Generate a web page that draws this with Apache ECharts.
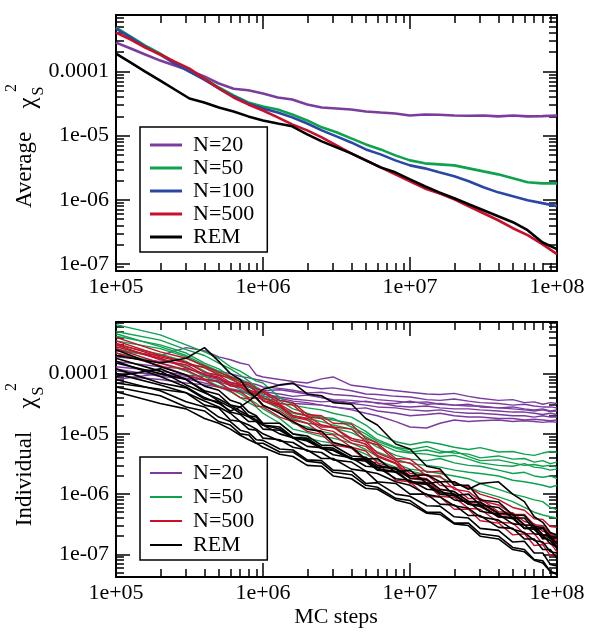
<!DOCTYPE html>
<html><head><meta charset="utf-8">
<script src="https://cdn.jsdelivr.net/npm/echarts@6/dist/echarts.min.js"></script>
<style>html,body{margin:0;padding:0;background:#fff}#c{width:595px;height:642px}</style>
</head><body><div id="c"></div>
<script>
// ---------- axis ticks / labels ----------
const xTickValues = [1e5, 1e6, 1e7, 1e8];
const xTickLabels = ['1e+05', '1e+06', '1e+07', '1e+08'];
const yTickValues = [1e-7, 1e-6, 1e-5, 1e-4];
const yTickLabels = ['1e-07', '1e-06', '1e-05', '0.0001'];

// ---------- top panel: average chi_S^2 ----------
const avgNames = ['N=20', 'N=50', 'N=100', 'N=500', 'REM'];
const xAvg = [1e5, 1.26e5, 1.58e5, 2e5, 2.51e5, 3.16e5, 3.98e5, 5.01e5, 6.31e5, 7.94e5, 1e6, 1.26e6, 1.58e6, 2e6, 2.51e6, 3.16e6, 3.98e6, 5.01e6, 6.31e6, 7.94e6, 1e7, 1.26e7, 1.58e7, 2e7, 2.51e7, 3.16e7, 3.98e7, 5.01e7, 6.31e7, 7.94e7, 1e8];
const avgN20 = [2.82e-4, 2.28e-4, 1.84e-4, 1.48e-4, 1.24e-4, 1.04e-4, 8.4e-5, 6.5e-5, 5.4e-5, 5.1e-5, 4.55e-5, 3.94e-5, 3.67e-5, 3.07e-5, 2.75e-5, 2.66e-5, 2.56e-5, 2.39e-5, 2.3e-5, 2.22e-5, 2.07e-5, 2.14e-5, 2.12e-5, 2.07e-5, 2.05e-5, 2.07e-5, 2.0e-5, 2.06e-5, 2.0e-5, 2.02e-5, 2.07e-5];
const avgN50 = [4.83e-4, 3.5e-4, 2.54e-4, 1.9e-4, 1.38e-4, 1.0e-4, 7.8e-5, 5.64e-5, 4.23e-5, 3.3e-5, 2.86e-5, 2.56e-5, 2.14e-5, 1.73e-5, 1.35e-5, 1.13e-5, 9.08e-6, 7.32e-6, 6.12e-6, 4.94e-6, 4.13e-6, 3.71e-6, 3.58e-6, 3.45e-6, 3.1e-6, 2.78e-6, 2.5e-6, 2.17e-6, 1.88e-6, 1.81e-6, 1.81e-6];
const avgN100 = [4.67e-4, 3.38e-4, 2.45e-4, 1.84e-4, 1.33e-4, 1.0e-4, 7.5e-5, 5.44e-5, 4.08e-5, 3.18e-5, 2.66e-5, 2.3e-5, 1.93e-5, 1.55e-5, 1.21e-5, 9.75e-6, 7.86e-6, 6.12e-6, 5.12e-6, 4.13e-6, 3.45e-6, 3.1e-6, 2.69e-6, 2.33e-6, 1.95e-6, 1.57e-6, 1.31e-6, 1.14e-6, 9.9e-7, 8.9e-7, 8.0e-7];
const avgN500 = [4.04e-4, 3.15e-4, 2.36e-4, 1.84e-4, 1.43e-4, 1.11e-4, 7.8e-5, 5.44e-5, 3.94e-5, 3.07e-5, 2.47e-5, 1.93e-5, 1.5e-5, 1.21e-5, 9.41e-6, 7.07e-6, 5.31e-6, 4.13e-6, 3.21e-6, 2.5e-6, 1.95e-6, 1.51e-6, 1.27e-6, 1.02e-6, 7.96e-7, 6.19e-7, 4.82e-7, 3.62e-7, 2.82e-7, 2.04e-7, 1.43e-7];
const avgREM = [1.9e-4, 1.38e-4, 1.0e-4, 7.24e-5, 5.25e-5, 3.8e-5, 3.3e-5, 2.75e-5, 2.39e-5, 2.0e-5, 1.73e-5, 1.55e-5, 1.4e-5, 1.05e-5, 8.15e-6, 6.58e-6, 5.31e-6, 4.13e-6, 3.21e-6, 2.69e-6, 2.09e-6, 1.63e-6, 1.31e-6, 1.06e-6, 8.55e-7, 6.9e-7, 5.56e-7, 4.49e-7, 3.37e-7, 2.19e-7, 1.71e-7];

// ---------- bottom panel: individual samples ----------
const indNames = ['N=20', 'N=50', 'N=500', 'REM'];
const xInd = [1e5, 2e5, 3e5, 4e5, 5e5, 6e5, 7e5, 8e5, 9e5, 1e6, 1.3e6, 1.6e6, 2e6, 2.5e6, 3e6, 4e6, 5e6, 6e6, 8e6, 1e7, 1.3e7, 1.6e7, 2e7, 2.5e7, 3e7, 4e7, 5e7, 6e7, 7e7, 8e7, 9e7, 1e8];
const indN20 = [
 [2.4e-4, 2.0e-4, 2.7e-4, 2.4e-4, 1.9e-4, 1.7e-4, 1.5e-4, 1.4e-4, 9.5e-5, 8.8e-5, 8.0e-5, 7.4e-5, 7.0e-5, 8.2e-5, 8.8e-5, 6.4e-5, 6.0e-5, 5.6e-5, 5.2e-5, 4.9e-5, 4.6e-5, 4.5e-5, 4.7e-5, 4.2e-5, 3.9e-5, 3.6e-5, 3.7e-5, 3.3e-5, 3.4e-5, 3.1e-5, 3.3e-5, 3.2e-5],
 [1.9e-4, 1.6e-4, 1.4e-4, 1.3e-4, 1.1e-4, 1.0e-4, 9.0e-5, 8.5e-5, 8.0e-5, 7.6e-5, 6.4e-5, 6.8e-5, 6.0e-5, 5.6e-5, 5.8e-5, 5.2e-5, 4.6e-5, 4.5e-5, 4.2e-5, 4.1e-5, 3.7e-5, 3.6e-5, 3.8e-5, 3.5e-5, 3.3e-5, 3.2e-5, 3.0e-5, 3.1e-5, 2.9e-5, 2.8e-5, 2.8e-5, 2.7e-5],
 [1.6e-4, 1.3e-4, 1.2e-4, 1.0e-4, 9.5e-5, 8.6e-5, 8.0e-5, 7.0e-5, 6.6e-5, 6.0e-5, 5.7e-5, 5.3e-5, 4.8e-5, 4.9e-5, 4.5e-5, 4.3e-5, 4.0e-5, 3.7e-5, 3.5e-5, 3.3e-5, 3.4e-5, 3.1e-5, 3.0e-5, 3.1e-5, 2.8e-5, 2.7e-5, 2.8e-5, 2.6e-5, 2.5e-5, 2.6e-5, 2.4e-5, 2.5e-5],
 [1.3e-4, 1.1e-4, 9.4e-5, 9.0e-5, 8.0e-5, 7.2e-5, 6.5e-5, 6.0e-5, 5.2e-5, 5.0e-5, 4.6e-5, 4.2e-5, 4.4e-5, 4.0e-5, 3.7e-5, 3.6e-5, 3.4e-5, 3.3e-5, 2.9e-5, 2.8e-5, 2.9e-5, 2.7e-5, 2.6e-5, 2.6e-5, 2.5e-5, 2.4e-5, 2.3e-5, 2.3e-5, 2.2e-5, 2.1e-5, 2.2e-5, 2.1e-5],
 [1.1e-4, 9.6e-5, 8.4e-5, 7.8e-5, 7.3e-5, 6.4e-5, 5.9e-5, 5.1e-5, 4.9e-5, 4.6e-5, 4.1e-5, 3.8e-5, 3.6e-5, 3.4e-5, 3.5e-5, 3.2e-5, 3.0e-5, 2.8e-5, 2.7e-5, 2.5e-5, 2.4e-5, 2.5e-5, 2.3e-5, 2.2e-5, 2.2e-5, 2.1e-5, 2.0e-5, 2.0e-5, 1.9e-5, 2.0e-5, 1.9e-5, 1.9e-5],
 [9.2e-5, 8.0e-5, 7.0e-5, 6.5e-5, 6.0e-5, 5.4e-5, 5.0e-5, 4.6e-5, 4.0e-5, 3.8e-5, 3.6e-5, 3.2e-5, 3.1e-5, 3.0e-5, 2.8e-5, 2.6e-5, 2.7e-5, 2.4e-5, 2.2e-5, 2.0e-5, 2.1e-5, 2.2e-5, 2.0e-5, 1.9e-5, 1.9e-5, 1.8e-5, 1.8e-5, 1.7e-5, 1.75e-5, 1.7e-5, 1.65e-5, 1.7e-5],
 [1.2e-4, 9.0e-5, 8.2e-5, 7.0e-5, 6.2e-5, 5.6e-5, 5.2e-5, 4.8e-5, 4.4e-5, 4.2e-5, 3.9e-5, 3.5e-5, 3.3e-5, 3.0e-5, 2.8e-5, 2.5e-5, 2.2e-5, 2.0e-5, 1.6e-5, 1.3e-5, 1.25e-5, 1.5e-5, 1.7e-5, 1.6e-5, 1.65e-5, 1.7e-5, 1.6e-5, 1.65e-5, 1.6e-5, 1.55e-5, 1.6e-5, 1.55e-5],
 [8.0e-5, 1.0e-4, 9.0e-5, 8.0e-5, 7.6e-5, 7.0e-5, 6.6e-5, 6.0e-5, 5.6e-5, 5.2e-5, 5.4e-5, 5.0e-5, 4.6e-5, 4.0e-5, 3.6e-5, 3.3e-5, 3.5e-5, 3.2e-5, 3.2e-5, 3.5e-5, 3.1e-5, 3.2e-5, 3.0e-5, 2.9e-5, 2.9e-5, 2.7e-5, 2.6e-5, 2.5e-5, 2.4e-5, 2.5e-5, 2.35e-5, 2.4e-5]
];
const indN50 = [
 [6.5e-4, 4.4e-4, 3.0e-4, 2.3e-4, 1.8e-4, 1.3e-4, 1.1e-4, 9.0e-5, 7.5e-5, 7.0e-5, 4.0e-5, 3.0e-5, 2.7e-5, 2.5e-5, 2.2e-5, 1.9e-5, 1.4e-5, 1.0e-5, 7.4e-6, 6.6e-6, 7.4e-6, 6.8e-6, 6.0e-6, 5.5e-6, 5.9e-6, 5.0e-6, 5.1e-6, 4.6e-6, 4.4e-6, 4.8e-6, 5.1e-6, 4.9e-6],
 [5.0e-4, 3.6e-4, 2.5e-4, 2.0e-4, 1.5e-4, 1.2e-4, 9.5e-5, 7.5e-5, 6.0e-5, 5.2e-5, 3.5e-5, 2.6e-5, 2.2e-5, 1.8e-5, 1.7e-5, 1.5e-5, 1.1e-5, 8.0e-6, 6.0e-6, 5.5e-6, 6.2e-6, 5.2e-6, 4.8e-6, 4.6e-6, 4.0e-6, 4.3e-6, 3.8e-6, 3.9e-6, 3.4e-6, 3.6e-6, 3.2e-6, 3.4e-6],
 [4.2e-4, 3.0e-4, 2.2e-4, 1.5e-4, 1.2e-4, 9.0e-5, 8.0e-5, 6.5e-5, 5.5e-5, 4.4e-5, 3.0e-5, 2.0e-5, 1.8e-5, 1.6e-5, 1.4e-5, 1.2e-5, 9.0e-6, 7.0e-6, 5.2e-6, 4.8e-6, 4.6e-6, 4.2e-6, 4.4e-6, 3.8e-6, 3.3e-6, 3.0e-6, 2.9e-6, 3.2e-6, 2.8e-6, 2.7e-6, 2.5e-6, 2.6e-6],
 [3.5e-4, 2.6e-4, 1.9e-4, 1.3e-4, 1.0e-4, 8.0e-5, 6.8e-5, 5.5e-5, 4.6e-5, 3.6e-5, 2.6e-5, 1.8e-5, 1.5e-5, 1.4e-5, 1.25e-5, 1.05e-5, 8.0e-6, 6.0e-6, 4.4e-6, 3.8e-6, 3.6e-6, 3.9e-6, 3.3e-6, 3.0e-6, 2.9e-6, 2.5e-6, 2.2e-6, 2.3e-6, 2.0e-6, 1.9e-6, 2.0e-6, 1.8e-6],
 [3.0e-4, 2.1e-4, 1.6e-4, 1.1e-4, 8.0e-5, 6.5e-5, 5.5e-5, 4.5e-5, 3.8e-5, 3.0e-5, 2.2e-5, 1.5e-5, 1.3e-5, 1.1e-5, 1.0e-5, 8.5e-6, 6.6e-6, 5.0e-6, 3.8e-6, 3.2e-6, 3.0e-6, 2.8e-6, 2.5e-6, 2.3e-6, 2.2e-6, 2.0e-6, 1.7e-6, 1.6e-6, 1.5e-6, 1.4e-6, 1.3e-6, 1.4e-6],
 [2.6e-4, 1.8e-4, 1.3e-4, 9.0e-5, 7.0e-5, 5.5e-5, 4.6e-5, 3.8e-5, 3.2e-5, 2.6e-5, 1.8e-5, 1.2e-5, 1.05e-5, 9.0e-6, 8.5e-6, 7.0e-6, 5.5e-6, 4.2e-6, 3.2e-6, 2.6e-6, 2.4e-6, 2.2e-6, 2.0e-6, 1.8e-6, 1.5e-6, 1.2e-6, 1.0e-6, 9.0e-7, 8.0e-7, 7.5e-7, 6.0e-7, 5.5e-7],
 [2.2e-4, 1.5e-4, 1.1e-4, 8.0e-5, 6.2e-5, 5.0e-5, 4.0e-5, 3.3e-5, 2.8e-5, 2.2e-5, 1.5e-5, 1.0e-5, 8.5e-6, 7.5e-6, 7.0e-6, 5.8e-6, 4.6e-6, 3.6e-6, 2.8e-6, 2.4e-6, 2.1e-6, 1.9e-6, 1.5e-6, 1.3e-6, 1.1e-6, 9.0e-7, 7.5e-7, 6.0e-7, 5.0e-7, 4.5e-7, 4.2e-7, 4.0e-7],
 [4.6e-4, 2.8e-4, 2.0e-4, 1.4e-4, 1.1e-4, 8.5e-5, 7.5e-5, 6.2e-5, 5.0e-5, 4.0e-5, 2.8e-5, 2.2e-5, 2.0e-5, 1.9e-5, 1.8e-5, 1.3e-5, 1.0e-5, 7.5e-6, 5.8e-6, 5.0e-6, 5.4e-6, 4.8e-6, 5.2e-6, 4.2e-6, 3.6e-6, 3.7e-6, 3.3e-6, 3.0e-6, 3.1e-6, 2.9e-6, 3.0e-6, 2.8e-6]
];
const indN500 = [
 [4.0e-4, 2.3e-4, 1.8e-4, 1.35e-4, 1.05e-4, 8.9e-5, 7.2e-5, 7.0e-5, 5.7e-5, 5.2e-5, 3.6e-5, 3.3e-5, 2.1e-5, 2.0e-5, 1.5e-5, 1.45e-5, 8.4e-6, 7.0e-6, 3.9e-6, 3.8e-6, 2.3e-6, 2.4e-6, 1.5e-6, 1.3e-6, 1.0e-6, 8.1e-7, 6.0e-7, 5.4e-7, 3.9e-7, 3.8e-7, 2.9e-7, 2.8e-7],
 [3.5e-4, 2.0e-4, 1.55e-4, 1.05e-4, 9.4e-5, 7.1e-5, 6.7e-5, 5.3e-5, 4.9e-5, 4.0e-5, 3.1e-5, 2.3e-5, 2.0e-5, 1.4e-5, 1.3e-5, 8.4e-6, 7.5e-6, 4.8e-6, 3.6e-6, 2.2e-6, 2.1e-6, 1.4e-6, 1.3e-6, 8.4e-7, 8.5e-7, 5.1e-7, 4.9e-7, 3.5e-7, 3.2e-7, 2.4e-7, 2.3e-7, 1.7e-7],
 [3.0e-4, 1.7e-4, 1.4e-4, 9.5e-5, 8.4e-5, 6.2e-5, 6.0e-5, 4.8e-5, 4.6e-5, 3.5e-5, 2.8e-5, 1.9e-5, 1.7e-5, 1.2e-5, 1.1e-5, 7.0e-6, 6.2e-6, 4.2e-6, 3.2e-6, 1.8e-6, 1.7e-6, 1.1e-6, 1.0e-6, 6.8e-7, 6.6e-7, 4.1e-7, 4.0e-7, 2.7e-7, 2.8e-7, 1.9e-7, 2.0e-7, 1.4e-7],
 [2.6e-4, 1.5e-4, 1.15e-4, 8.2e-5, 7.3e-5, 5.4e-5, 5.0e-5, 4.0e-5, 3.9e-5, 2.9e-5, 2.4e-5, 1.7e-5, 1.5e-5, 1.0e-5, 9.6e-6, 6.0e-6, 5.2e-6, 3.3e-6, 2.7e-6, 1.5e-6, 1.45e-6, 9.2e-7, 8.8e-7, 5.8e-7, 5.6e-7, 3.4e-7, 3.3e-7, 2.2e-7, 2.2e-7, 1.5e-7, 1.55e-7, 1.1e-7],
 [2.2e-4, 1.35e-4, 9.5e-5, 7.8e-5, 5.9e-5, 5.2e-5, 4.0e-5, 3.8e-5, 2.9e-5, 2.8e-5, 1.9e-5, 1.6e-5, 1.1e-5, 9.8e-6, 6.6e-6, 5.8e-6, 3.6e-6, 3.3e-6, 1.7e-6, 1.6e-6, 9.0e-7, 9.0e-7, 5.6e-7, 5.6e-7, 3.6e-7, 3.3e-7, 2.1e-7, 2.2e-7, 1.4e-7, 1.45e-7, 9.5e-8, 1.0e-7],
 [3.2e-4, 1.9e-4, 1.5e-4, 1.25e-4, 9.5e-5, 8.4e-5, 6.6e-5, 6.5e-5, 5.0e-5, 4.9e-5, 3.2e-5, 3.0e-5, 1.9e-5, 1.8e-5, 1.3e-5, 1.2e-5, 7.4e-6, 6.6e-6, 3.5e-6, 3.3e-6, 2.0e-6, 2.0e-6, 1.2e-6, 1.1e-6, 7.8e-7, 6.6e-7, 4.6e-7, 4.6e-7, 3.1e-7, 3.0e-7, 2.2e-7, 2.1e-7],
 [2.8e-4, 1.8e-4, 1.25e-4, 9.6e-5, 8.8e-5, 6.6e-5, 6.3e-5, 4.9e-5, 4.7e-5, 3.6e-5, 3.0e-5, 2.0e-5, 1.8e-5, 1.3e-5, 1.3e-5, 7.8e-6, 6.8e-6, 4.4e-6, 3.3e-6, 2.0e-6, 1.8e-6, 1.2e-6, 1.1e-6, 7.3e-7, 7.1e-7, 4.6e-7, 4.4e-7, 3.0e-7, 3.0e-7, 2.1e-7, 2.2e-7, 1.5e-7]
];
const indREM = [
 [2.0e-4, 1.5e-4, 1.8e-4, 2.7e-4, 1.6e-4, 1.0e-4, 8.0e-5, 5.0e-5, 4.0e-5, 3.0e-5, 2.2e-5, 1.6e-5, 1.2e-5, 1.1e-5, 7.2e-6, 6.0e-6, 3.8e-6, 3.9e-6, 2.3e-6, 2.5e-6, 1.5e-6, 1.6e-6, 9.5e-7, 1.0e-6, 6.6e-7, 6.0e-7, 4.0e-7, 4.0e-7, 2.6e-7, 2.7e-7, 1.8e-7, 1.9e-7],
 [1.6e-4, 9.0e-5, 6.0e-5, 4.0e-5, 3.2e-5, 2.4e-5, 2.8e-5, 3.5e-5, 4.4e-5, 5.5e-5, 6.5e-5, 7.0e-5, 4.6e-5, 4.3e-5, 3.3e-5, 3.1e-5, 1.8e-5, 1.4e-5, 6.8e-6, 5.6e-6, 2.9e-6, 2.6e-6, 1.4e-6, 1.4e-6, 8.0e-7, 7.4e-7, 4.5e-7, 4.4e-7, 2.9e-7, 2.8e-7, 2.0e-7, 1.9e-7],
 [1.2e-4, 7.0e-5, 5.8e-5, 3.8e-5, 3.4e-5, 2.3e-5, 2.1e-5, 1.6e-5, 1.6e-5, 1.2e-5, 1.15e-5, 8.5e-6, 8.0e-6, 5.8e-6, 5.4e-6, 3.9e-6, 3.8e-6, 2.8e-6, 2.7e-6, 2.0e-6, 2.1e-6, 1.6e-6, 1.6e-6, 1.2e-6, 1.5e-6, 1.6e-6, 1.0e-6, 7.5e-7, 4.2e-7, 3.4e-7, 2.3e-7, 2.1e-7],
 [1.0e-4, 6.5e-5, 4.8e-5, 3.0e-5, 2.7e-5, 1.7e-5, 1.6e-5, 1.2e-5, 1.15e-5, 8.5e-6, 8.0e-6, 6.0e-6, 5.4e-6, 3.9e-6, 3.9e-6, 2.6e-6, 2.4e-6, 1.6e-6, 1.5e-6, 1.0e-6, 1.0e-6, 6.8e-7, 6.6e-7, 4.4e-7, 4.4e-7, 2.8e-7, 2.7e-7, 1.8e-7, 1.8e-7, 1.2e-7, 1.2e-7, 8.5e-8],
 [8.0e-5, 5.2e-5, 3.4e-5, 2.8e-5, 1.9e-5, 1.6e-5, 1.15e-5, 1.05e-5, 8.0e-6, 7.8e-6, 5.6e-6, 5.4e-6, 3.7e-6, 3.6e-6, 2.5e-6, 2.4e-6, 1.5e-6, 1.55e-6, 1.0e-6, 9.2e-7, 6.4e-7, 6.3e-7, 4.2e-7, 4.0e-7, 2.7e-7, 2.5e-7, 1.6e-7, 1.65e-7, 1.05e-7, 1.05e-7, 6.8e-8, 6.4e-8],
 [6.0e-5, 4.3e-5, 2.8e-5, 2.4e-5, 1.6e-5, 1.4e-5, 1.0e-5, 9.6e-6, 7.0e-6, 7.0e-6, 5.0e-6, 5.0e-6, 3.5e-6, 3.3e-6, 2.3e-6, 2.1e-6, 1.4e-6, 1.3e-6, 8.5e-7, 7.8e-7, 5.0e-7, 5.0e-7, 3.3e-7, 3.3e-7, 2.2e-7, 2.0e-7, 1.3e-7, 1.2e-7, 8.2e-8, 7.8e-8, 5.2e-8, 4.8e-8],
 [1.5e-4, 1.0e-4, 8.0e-5, 5.2e-5, 4.5e-5, 3.0e-5, 2.8e-5, 2.0e-5, 1.9e-5, 1.4e-5, 1.3e-5, 8.8e-6, 8.4e-6, 6.0e-6, 5.8e-6, 3.9e-6, 3.7e-6, 2.6e-6, 2.4e-6, 1.6e-6, 1.55e-6, 1.05e-6, 1.0e-6, 6.8e-7, 6.6e-7, 4.2e-7, 4.1e-7, 2.7e-7, 2.8e-7, 1.8e-7, 1.9e-7, 1.3e-7],
 [2.5e-4, 1.3e-4, 9.5e-5, 6.2e-5, 5.3e-5, 3.6e-5, 3.2e-5, 2.3e-5, 2.0e-5, 1.5e-5, 1.5e-5, 1.0e-5, 9.2e-6, 6.5e-6, 6.4e-6, 4.3e-6, 4.1e-6, 3.0e-6, 2.6e-6, 1.85e-6, 1.75e-6, 1.2e-6, 1.1e-6, 7.6e-7, 7.4e-7, 4.8e-7, 4.6e-7, 3.1e-7, 3.0e-7, 2.1e-7, 2.0e-7, 1.5e-7],
 [9.0e-5, 1.2e-4, 8.0e-5, 5.0e-5, 3.5e-5, 2.8e-5, 2.2e-5, 1.9e-5, 1.6e-5, 1.4e-5, 1.0e-5, 8.6e-6, 6.2e-6, 5.9e-6, 4.5e-6, 4.0e-6, 2.9e-6, 2.8e-6, 1.8e-6, 1.7e-6, 1.2e-6, 1.15e-6, 8.0e-7, 7.4e-7, 5.2e-7, 4.6e-7, 3.2e-7, 3.1e-7, 2.2e-7, 2.1e-7, 1.5e-7, 1.35e-7],
 [7.0e-5, 5.5e-5, 4.8e-5, 3.5e-5, 2.8e-5, 2.2e-5, 1.6e-5, 1.4e-5, 1.2e-5, 1.0e-5, 7.6e-6, 7.2e-6, 5.2e-6, 4.9e-6, 3.7e-6, 3.4e-6, 2.4e-6, 2.2e-6, 1.6e-6, 1.4e-6, 9.8e-7, 9.0e-7, 6.4e-7, 5.8e-7, 4.2e-7, 3.7e-7, 2.6e-7, 2.3e-7, 1.7e-7, 1.6e-7, 1.1e-7, 1.05e-7],
 [1.8e-4, 1.1e-4, 6.5e-5, 4.8e-5, 3.8e-5, 3.0e-5, 2.4e-5, 2.0e-5, 1.7e-5, 1.4e-5, 1.2e-5, 8.6e-6, 7.6e-6, 5.7e-6, 5.3e-6, 3.8e-6, 3.5e-6, 2.5e-6, 2.3e-6, 1.6e-6, 1.45e-6, 1.0e-6, 9.4e-7, 6.8e-7, 6.2e-7, 4.3e-7, 3.9e-7, 2.7e-7, 2.6e-7, 1.9e-7, 1.7e-7, 1.25e-7],
 [5.0e-5, 3.2e-5, 2.6e-5, 1.8e-5, 1.5e-5, 1.2e-5, 9.5e-6, 8.0e-6, 7.0e-6, 6.0e-6, 4.6e-6, 4.2e-6, 3.0e-6, 2.9e-6, 2.0e-6, 1.8e-6, 1.25e-6, 1.2e-6, 8.0e-7, 7.0e-7, 4.8e-7, 4.6e-7, 3.2e-7, 3.0e-7, 2.0e-7, 1.8e-7, 1.2e-7, 1.1e-7, 8.0e-8, 7.2e-8, 5.2e-8, 4.6e-8]
];

// ---------- styling ----------
const FONT = '"Liberation Serif", "Times New Roman", serif';
const C = { 'N=20': '#7b3c9e', 'N=50': '#0fa24e', 'N=100': '#2a48a3', 'N=500': '#c8102a', 'REM': '#000000' };
const X_MIN = 1e5, X_MAX = 1e8;
const TOP_Y = [7.8e-8, 7.6e-4];
const BOT_Y = [4.2e-8, 7.2e-4];

function minorTicks(lo, hi) {
  const out = [];
  for (let e = lo; e <= hi; e++) for (let m = 2; m <= 9; m++) out.push(m * Math.pow(10, e));
  return out;
}
const xMinor = minorTicks(5, 7);
const yMinor = minorTicks(-8, -4);
function fmt(values, labels) {
  return function (v) {
    for (let i = 0; i < values.length; i++) {
      if (Math.abs(Math.log10(v) - Math.log10(values[i])) < 1e-6) return labels[i];
    }
    return '';
  };
}
const lineBlack = { show: true, lineStyle: { color: '#000', width: 2 } };
function tick(len, vals) {
  return { show: true, inside: true, length: len, lineStyle: { color: '#000', width: 1.5 }, customValues: vals };
}
function xAxes(g) {
  const base = { type: 'log', logBase: 10, gridIndex: g, min: X_MIN, max: X_MAX, splitLine: { show: false }, minorTick: { show: false }, minorSplitLine: { show: false } };
  return [
    Object.assign({}, base, { position: 'bottom', axisLine: lineBlack, axisTick: tick(14, xTickValues),
      axisLabel: { show: true, customValues: xTickValues, formatter: fmt(xTickValues, xTickLabels), fontFamily: FONT, fontSize: 22, color: '#000', margin: 5 } }),
    Object.assign({}, base, { position: 'bottom', axisLine: { show: false }, axisTick: tick(8, xMinor), axisLabel: { show: false } }),
    Object.assign({}, base, { position: 'top', axisLine: lineBlack, axisTick: tick(14, xTickValues), axisLabel: { show: false } }),
    Object.assign({}, base, { position: 'top', axisLine: { show: false }, axisTick: tick(8, xMinor), axisLabel: { show: false } })
  ];
}
function yAxes(g, range) {
  const base = { type: 'log', logBase: 10, gridIndex: g, min: range[0], max: range[1], splitLine: { show: false }, minorTick: { show: false }, minorSplitLine: { show: false } };
  return [
    Object.assign({}, base, { position: 'left', axisLine: lineBlack, axisTick: tick(14, yTickValues),
      axisLabel: { show: true, customValues: yTickValues, formatter: fmt(yTickValues, yTickLabels), fontFamily: FONT, fontSize: 22, color: '#000', margin: 7 } }),
    Object.assign({}, base, { position: 'left', axisLine: { show: false }, axisTick: tick(8, yMinor), axisLabel: { show: false } }),
    Object.assign({}, base, { position: 'right', axisLine: lineBlack, axisTick: tick(14, yTickValues), axisLabel: { show: false } }),
    Object.assign({}, base, { position: 'right', axisLine: { show: false }, axisTick: tick(8, yMinor), axisLabel: { show: false } })
  ];
}
function pairs(xs, ys) { return xs.map((x, i) => [x, ys[i]]); }
function line(name, xs, ys, g, w) {
  return { type: 'line', name: name, xAxisIndex: g * 4, yAxisIndex: g * 4, data: pairs(xs, ys),
    showSymbol: false, symbol: 'none', silent: true, animation: false, clip: true,
    lineStyle: { color: C[name], width: w }, itemStyle: { color: C[name] }, emphasis: { disabled: true } };
}

const series = [];
const avgData = { 'N=20': avgN20, 'N=50': avgN50, 'N=100': avgN100, 'N=500': avgN500, 'REM': avgREM };
avgNames.forEach(n => series.push(line(n, xAvg, avgData[n], 0, 2.6)));
indN20.forEach(ys => series.push(line('N=20', xInd, ys, 1, 1.4)));
indN50.forEach(ys => series.push(line('N=50', xInd, ys, 1, 1.4)));
indN500.forEach(ys => series.push(line('N=500', xInd, ys, 1, 1.4)));
indREM.forEach(ys => series.push(line('REM', xInd, ys, 1, 1.6)));

function legendCfg(names, top, h, gap, pad) {
  return {
    data: names.map(n => ({ name: n, itemStyle: { color: C[n] } })),
    orient: 'vertical', left: 140, top: top, icon: 'rect', itemWidth: 32, itemHeight: h, itemGap: gap,
    padding: pad, borderColor: '#000', borderWidth: 1.5, borderRadius: 0, backgroundColor: '#fff',
    selectedMode: false, z: 10,
    textStyle: { fontFamily: FONT, fontSize: 22, color: '#000', padding: [0, 0, 0, 6] }
  };
}

function txt(t, x, y, size, rot) {
  return { type: 'text', x: x, y: y, rotation: rot || 0, silent: true, z: 20,
    style: { text: t, fontFamily: FONT, fontSize: size, fill: '#000', align: 'center', verticalAlign: 'middle' } };
}
const R = Math.PI / 2;

const option = {
  backgroundColor: '#fff',
  animation: false,
  grid: [
    { left: 116, top: 15, width: 441, height: 256, outerBoundsMode: 'none' },
    { left: 116, top: 322, width: 441, height: 255, outerBoundsMode: 'none' }
  ],
  xAxis: xAxes(0).concat(xAxes(1)),
  yAxis: yAxes(0, TOP_Y).concat(yAxes(1, BOT_Y)),
  legend: [
    legendCfg(avgNames, 127, 3, 1, [7, 13, 4, 10]),
    legendCfg(indNames, 457, 2, 2, [5, 13, 4, 10])
  ],
  series: series,
  graphic: [
    txt('Average', 25, 170, 23, R),
    txt('\u03c7', 28, 103, 25, R),
    txt('S', 39, 91, 16, R),
    txt('2', 12, 88, 16, R),
    txt('Individual', 25, 479, 23, R),
    txt('\u03c7', 28, 403, 25, R),
    txt('S', 39, 391, 16, R),
    txt('2', 12, 387, 16, R),
    txt('MC steps', 336, 617, 22, 0)
  ]
};
const chart = echarts.init(document.getElementById('c'), null, { renderer: 'canvas' });
chart.setOption(option);
</script></body></html>
